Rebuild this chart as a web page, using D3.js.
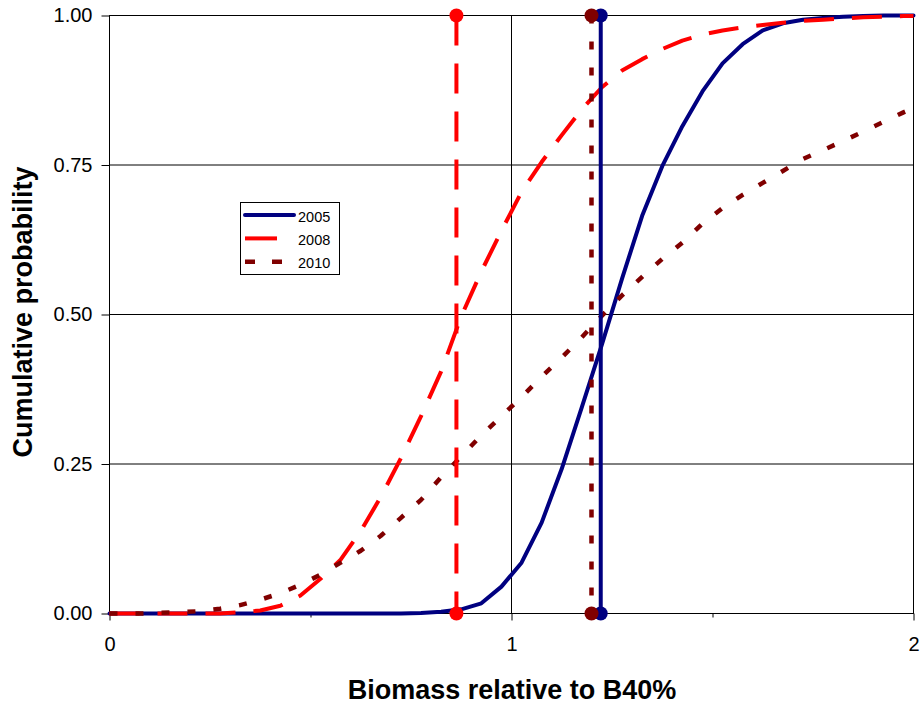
<!DOCTYPE html>
<html>
<head>
<meta charset="utf-8">
<script src="https://cdn.jsdelivr.net/npm/d3@7"></script>
<style>
  html, body { margin: 0; padding: 0; background: #fff; }
  svg { display: block; }
  text { font-family: "Liberation Sans", Arial, sans-serif; }
</style>
</head>
<body>
<svg id="chart" width="922" height="704"></svg>
<script>
// ---- data ----
const xValues = [0,0.025,0.075,0.125,0.175,0.225,0.275,0.325,0.375,0.425,0.475,
                 0.525,0.575,0.625,0.675,0.725,0.775,0.825,0.875,0.925,0.975,
                 1.025,1.075,1.125,1.175,1.225,1.275,1.325,1.375,1.425,1.475,
                 1.525,1.575,1.625,1.675,1.725,1.775,1.825,1.875,1.925,1.975,2.0];
const series2005 = [0,0,0,0,0,0,0,0,0,0,0,
                    0,0,0,0,0,0.001,0.003,0.007,0.017,0.045,
                    0.085,0.152,0.242,0.345,0.45,0.56,0.665,0.748,0.815,0.873,
                    0.92,0.952,0.975,0.987,0.993,0.996,0.998,0.999,1.0,1.0,1.0];
const series2008 = [0,0,0,0,0,0,0,0.002,0.005,0.013,0.03,
                    0.058,0.09,0.138,0.195,0.26,0.33,0.405,0.497,0.572,0.64,
                    0.705,0.755,0.80,0.843,0.88,0.908,0.927,0.944,0.958,0.968,
                    0.975,0.98,0.984,0.988,0.991,0.993,0.995,0.997,0.998,0.999,0.999];
const series2010 = [0,0,0,0.001,0.002,0.004,0.008,0.014,0.023,0.034,0.048,
                    0.065,0.085,0.105,0.13,0.16,0.19,0.228,0.263,0.298,0.33,
                    0.362,0.396,0.428,0.462,0.498,0.532,0.563,0.593,0.62,0.652,
                    0.678,0.70,0.72,0.74,0.76,0.775,0.79,0.806,0.822,0.838,0.845];
const seriesNames = ["2005", "2008", "2010"];
const markerX = [1.222, 0.863, 1.199];   // vertical reference lines per series
const xTicks = [0, 1, 2];
const xMinorTicks = [0.5, 1.5];
const yTicks = [0, 0.25, 0.5, 0.75, 1.0];
const xTitle = "Biomass relative to B40%";
const yTitle = "Cumulative probability";

// ---- styles ----
const colors = ["#000080", "#FF0000", "#800000"];
const widths = [4, 4, 4.5];
const dashes = [null, "30,18", "8,18"];
const legendDashes = [null, null, "10,17"];
const legendEnds = [294, 277, 283];

const svg = d3.select("#chart");
const x = d3.scaleLinear().domain([0, 2]).range([109.5, 913.5]);
const y = d3.scaleLinear().domain([0, 1]).range([613.5, 15.5]);

// gridlines
const g = svg.append("g");
g.selectAll("line.hg").data(yTicks.filter(d => d > 0 && d < 1)).join("line")
  .attr("x1", x(0)).attr("x2", x(2))
  .attr("y1", d => y(d)).attr("y2", d => y(d))
  .attr("stroke", "#000").attr("stroke-width", 1);
g.selectAll("line.vg").data(xTicks.filter(d => d > 0 && d < 2)).join("line")
  .attr("x1", d => x(d)).attr("x2", d => x(d))
  .attr("y1", y(0)).attr("y2", y(1))
  .attr("stroke", "#000").attr("stroke-width", 1);

// plot border
svg.append("rect")
  .attr("x", x(0)).attr("y", y(1))
  .attr("width", x(2) - x(0)).attr("height", y(0) - y(1))
  .attr("fill", "none").attr("stroke", "#000").attr("stroke-width", 1);

// axes
const yAxis = d3.axisLeft(y).tickValues(yTicks).tickFormat(d3.format(".2f"))
  .tickSizeInner(8).tickSizeOuter(0).tickPadding(9);
const ya = svg.append("g").attr("transform", `translate(${x(0)},0)`).call(yAxis);
ya.select(".domain").remove();
ya.selectAll("text").attr("font-size", 20).attr("font-family", "Liberation Sans, Arial, sans-serif").attr("fill", "#000");

const xAxis = d3.axisBottom(x).tickValues(xTicks).tickFormat(d3.format("d"))
  .tickSizeInner(7).tickSizeOuter(0).tickPadding(16);
const xa = svg.append("g").attr("transform", `translate(0,${y(0)})`).call(xAxis);
xa.select(".domain").remove();
xa.selectAll("text").attr("font-size", 20).attr("font-family", "Liberation Sans, Arial, sans-serif").attr("fill", "#000");
const xm = d3.axisBottom(x).tickValues(xMinorTicks).tickFormat("").tickSizeInner(4).tickSizeOuter(0);
const xma = svg.append("g").attr("transform", `translate(0,${y(0)})`).call(xm);
xma.select(".domain").remove();

// curves
const allSeries = [series2005, series2008, series2010];
const line = d3.line().x((d, i) => x(xValues[i])).y(d => y(d));
allSeries.forEach((s, k) => {
  svg.append("path").datum(s)
    .attr("d", line)
    .attr("fill", "none")
    .attr("stroke", colors[k])
    .attr("stroke-width", widths[k])
    .attr("stroke-linejoin", "round")
    .attr("stroke-linecap", k === 0 ? "round" : "butt")
    .attr("stroke-dasharray", dashes[k]);
});

// vertical marker lines with end dots
markerX.forEach((mx, k) => {
  svg.append("line")
    .attr("x1", x(mx)).attr("x2", x(mx))
    .attr("y1", y(1)).attr("y2", y(0))
    .attr("stroke", colors[k]).attr("stroke-width", widths[k])
    .attr("stroke-dasharray", dashes[k]);
  svg.selectAll(null).data([0, 1]).join("circle")
    .attr("cx", x(mx)).attr("cy", d => y(d)).attr("r", 7)
    .attr("fill", colors[k]);
});

// legend
const lg = svg.append("g");
lg.append("rect").attr("x", 240.5).attr("y", 202.5).attr("width", 99).attr("height", 72)
  .attr("fill", "#fff").attr("stroke", "#000").attr("stroke-width", 1);
seriesNames.forEach((name, k) => {
  const ly = 215 + k * 23.4;
  lg.append("line").attr("x1", 245).attr("x2", legendEnds[k]).attr("y1", ly).attr("y2", ly)
    .attr("stroke", colors[k]).attr("stroke-width", widths[k])
    .attr("stroke-linecap", k === 0 ? "round" : "butt")
    .attr("stroke-dasharray", legendDashes[k]);
  lg.append("text").attr("x", 298).attr("y", ly + 6.5).attr("font-size", 14.5)
    .attr("fill", "#000").text(name);
});

// axis titles
svg.append("text").attr("x", 512).attr("y", 699).attr("text-anchor", "middle")
  .attr("font-size", 27).attr("font-weight", "bold").attr("fill", "#000").text(xTitle);
svg.append("text").attr("transform", "translate(32,312) rotate(-90)").attr("text-anchor", "middle")
  .attr("font-size", 27).attr("font-weight", "bold").attr("fill", "#000").text(yTitle);
</script>
</body>
</html>
